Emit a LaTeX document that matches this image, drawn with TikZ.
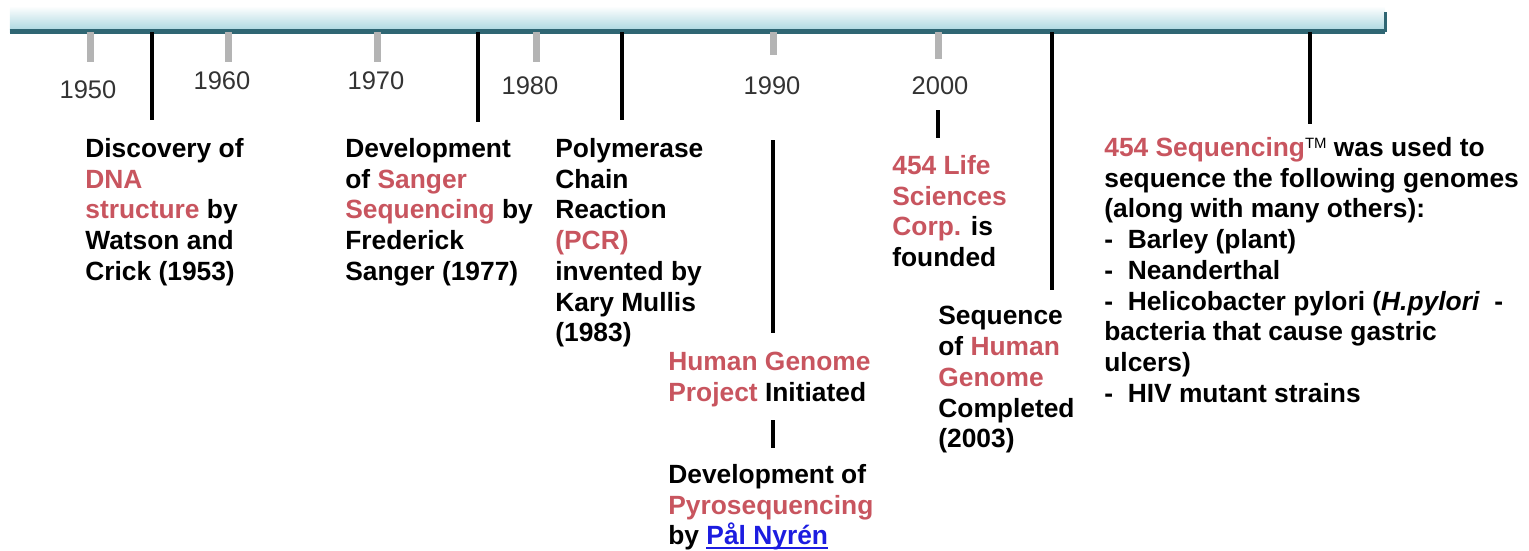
\documentclass[tikz,border=0pt]{standalone}
\usepackage{fontspec}
\setmainfont{Liberation Sans}
\usetikzlibrary{positioning}
\definecolor{tRed}{HTML}{C8555F}
\definecolor{tTeal}{HTML}{2F6673}
\definecolor{tSky}{HTML}{A6D5DE}
\definecolor{tGrey}{HTML}{B4B4B4}
\definecolor{tLink}{HTML}{1C1CE0}
\newcommand{\hl}[1]{\textcolor{tRed}{#1}}
\newcommand{\ulink}[1]{\textcolor{tLink}{\setbox0\hbox{#1}\rlap{\rule[-2.4pt]{\wd0}{1.1pt}}\box0}}

\begin{document}
\begin{tikzpicture}[x=0.2mm, y=-0.2mm,
  bar/.style={top color=white, bottom color=tSky, inner sep=0pt,
              minimum width=275mm, minimum height=5.2mm},
  event/.style={anchor=north west, inner sep=0pt, align=left,
                font=\fontsize{15}{17.5}\selectfont\bfseries},
  year/.style={inner sep=0pt, text=black!80, font=\fontsize{14.5}{16}\selectfont},
  tick/.style={draw=tGrey, line width=1.4mm},
  stem/.style={draw=black, line width=0.65mm},
]
  \useasboundingbox (0,0) rectangle (1529,550);

  % timeline bar
  \node[bar] (bar) at (697.5,19) {};
  \draw[tTeal, line width=1mm] ([yshift=0.2mm]bar.south west) -- ([yshift=0.2mm]bar.south east);
  \draw[tTeal, line width=0.5mm] (bar.south east) -- ([yshift=4mm]bar.south east);

  % decades
  \foreach \x/\yr/\lx/\ly/\tl in {90/1950/88/90/62, 228/1960/222/81/62,
      377/1970/376/81/62, 536/1980/530/86/62, 773/1990/772/86/55, 938/2000/940/86/59}{
    \draw[tick] (\x,32) -- (\x,\tl);
    \node[year] (y\yr) at (\lx,\ly) {\yr};
  }

  % events
  \node[event] (dna) at (85,138) {Discovery of\\ \hl{DNA}\\ \hl{structure} by\\ Watson and\\ Crick (1953)};
  \node[event] (sanger) at (345,138) {Development\\ of \hl{Sanger}\\ \hl{Sequencing} by\\ Frederick\\ Sanger (1977)};
  \node[event] (pcr) at (555,138) {Polymerase\\ Chain\\ Reaction\\ \hl{(PCR)}\\ invented by\\ Kary Mullis\\ (1983)};
  \node[event] (hgp) at (668,352) {\hl{Human Genome}\\ \hl{Project} Initiated};
  \node[event] (pyro) at (668,464) {Development of\\ \hl{Pyrosequencing}\\ by \ulink{Pål Nyrén}};
  \node[event] (life) at (892,155) {\hl{454 Life}\\ \hl{Sciences}\\ \hl{Corp.} is\\ founded};
  \node[event] (hgc) at (938,306) {Sequence\\ of \hl{Human}\\ \hl{Genome}\\ Completed\\ (2003)};
  \node[event] (seq) at (1104,137) {\hl{454 Sequencing}{\mdseries\raisebox{4.5pt}{\fontsize{8.5}{9}\selectfont TM}} was used to\\
    sequence the following genomes\\ (along with many others):\\ -\ \ Barley (plant)\\
    -\ \ Neanderthal\\ -\ \ Helicobacter pylori (\textit{H.pylori}\ \ -\\
    bacteria that cause gastric\\ ulcers)\\ -\ \ HIV mutant strains};

  % stems
  \coordinate (s53) at (152,120);
  \coordinate (s77) at (478,122);
  \coordinate (s83) at (622,120);
  \coordinate (s03) at (1052,290);
  \coordinate (s454) at (1310,124);
  \foreach \s in {s53,s77,s83,s03,s454}
    \draw[stem] (bar.south -| \s) -- (\s);
  \coordinate (hgpTop) at (773,140);
  \coordinate (hgpBot) at (773,333);
  \coordinate (pyroTop) at (773,420);
  \coordinate (pyroBot) at (773,448);
  \coordinate (lifeTop) at (938,110);
  \coordinate (lifeBot) at (938,138);
  \draw[stem] (hgpTop) -- (hgpBot);
  \draw[stem] (pyroTop) -- (pyroBot);
  \draw[stem] (lifeTop) -- (lifeBot);
\end{tikzpicture}
\end{document}
